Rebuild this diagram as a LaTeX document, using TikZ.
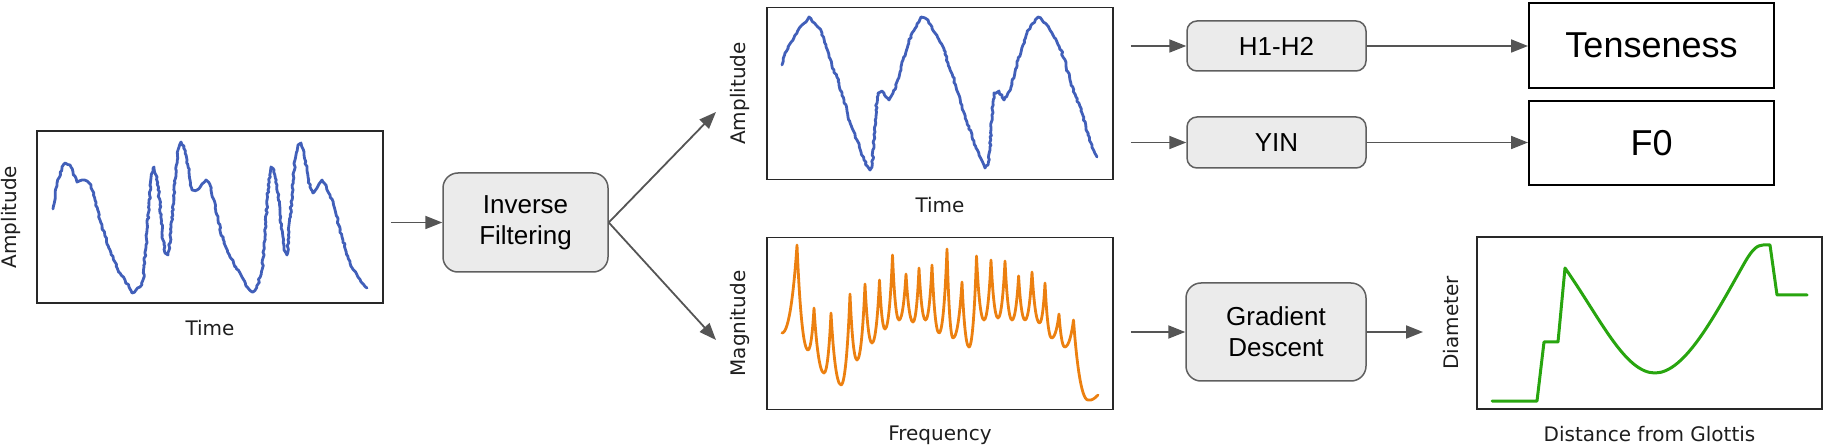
\documentclass[tikz,border=0pt]{standalone}
\usepackage{fontspec}
\usetikzlibrary{arrows.meta,positioning,decorations.pathmorphing}
\newfontfamily\boxfont{Liberation Sans}
\newfontfamily\axisfont{DejaVu Sans}
\definecolor{wavblue}{RGB}{65,95,185}
\definecolor{specorange}{RGB}{236,128,16}
\definecolor{tractgreen}{RGB}{40,165,15}
\definecolor{boxfill}{RGB}{235,235,235}
\definecolor{boxedge}{RGB}{95,95,95}
\definecolor{arrowgray}{RGB}{85,85,85}
\definecolor{framegray}{RGB}{40,40,40}
\definecolor{labelgray}{RGB}{30,30,30}
\begin{document}
\begin{tikzpicture}[x=1pt,y=-1pt,
  plotframe/.style={draw=framegray, line width=1.5pt, minimum width=346pt, minimum height=172pt, inner sep=0pt},
  axlabel/.style={text=labelgray, font=\axisfont\fontsize{20}{24}\selectfont, inner sep=0pt},
  procbox/.style={draw=boxedge, fill=boxfill, line width=1.5pt, rounded corners=15pt, inner sep=0pt, align=center, font=\boxfont\fontsize{26}{31}\selectfont},
  smallproc/.style={procbox, rounded corners=10pt, minimum width=179pt, minimum height=50pt, font=\boxfont\fontsize{26}{30}\selectfont},
  outbox/.style={draw=black, line width=2pt, minimum width=245pt, minimum height=85pt, inner sep=0pt, font=\boxfont\fontsize{36}{42}\selectfont},
  arr/.style={draw=arrowgray, line width=1.8pt, -{Triangle[length=17pt,width=13pt]}},
  wave/.style={line width=2.8pt, line join=round, line cap=round},
  jitter/.style={decorate, decoration={random steps, segment length=2.5pt, amplitude=0.9pt}}
]
\useasboundingbox (0,0) rectangle (1824,446);
\pgfmathsetseed{11}

% plot frames
\node[plotframe] (leftplot) at (210,217) {};
\node[plotframe] (topplot) at (940,93.5) {};
\node[plotframe] (botplot) at (940,323.5) {};
\node[plotframe, minimum width=345pt] (rightplot) at (1649.5,323) {};

% axis labels
\node[axlabel, rotate=90, anchor=base] (ampL) at ([xshift=-20pt]leftplot.west) {Amplitude};
\node[axlabel, anchor=base] (timeL) at ([yshift=-32pt]leftplot.south) {Time};
\node[axlabel, rotate=90, anchor=base] (ampT) at ([xshift=-21pt]topplot.west) {Amplitude};
\node[axlabel, anchor=base] (timeT) at ([yshift=-32pt]topplot.south) {Time};
\node[axlabel, rotate=90, anchor=base] (magB) at ([xshift=-21pt]botplot.west) {Magnitude};
\node[axlabel, anchor=base] (freqB) at ([yshift=-30pt]botplot.south) {Frequency};
\node[axlabel, rotate=90, anchor=base] (diamR) at ([xshift=-18pt]rightplot.west) {Diameter};
\node[axlabel, anchor=base] (distR) at ([yshift=-32pt]rightplot.south) {Distance from Glottis};

% boxes
\node[procbox, minimum width=165pt, minimum height=99pt] (inv) at (525.5,222.5) {Inverse\\Filtering};
\node[smallproc] (hdiff) at (1276.5,46) {H1-H2};
\node[smallproc, minimum height=51pt] (yin) at (1276.5,142.5) {YIN};
\node[procbox, minimum width=180pt, minimum height=98pt] (grad) at (1276,332) {Gradient\\Descent};
\node[outbox] (tense) at (1651.5,45.5) {Tenseness};
\node[outbox, minimum height=84pt] (fzero) at (1651.5,143) {F0};

\coordinate (upTip) at (716,112);
\coordinate (downTip) at (716,340);
\coordinate (gradTip) at (1423,332);

% connectors
\draw[arr, shorten <=7pt] (leftplot.east |- inv.west) -- (inv.west);
\draw[arr] (inv.east) -- (upTip);
\draw[arr] (inv.east) -- (downTip);
\draw[arr, shorten <=17pt] (topplot.east |- hdiff.west) -- (hdiff.west);
\draw[arr, shorten <=17pt] (topplot.east |- yin.west) -- (yin.west);
\draw[arr] (hdiff.east) -- (tense.west |- hdiff.east);
\draw[arr] (yin.east) -- (fzero.west |- yin.east);
\draw[arr, shorten <=17pt] (botplot.east |- grad.west) -- (grad.west);
\draw[arr] (grad.east) -- (gradTip);

% glottal flow, before inverse filtering
\draw[wave, wavblue, jitter] (53,209) -- (57,185) -- (62,167) -- (65,163) -- (70,165) -- (73,172) -- (77,182) -- (82,180) -- (87,181) -- (91,185) -- (95,200) -- (100,220) -- (105,236) -- (110,250) -- (115,262) -- (120,273) -- (125,280) -- (129,287) -- (132,293) -- (136,290) -- (140,287) -- (143,280) -- (146,245) -- (149,205) -- (152,173) -- (154,167) -- (157,177) -- (160,205) -- (163,240) -- (165,253) -- (168,255) -- (171,232) -- (173,205) -- (175,183) -- (178,150) -- (181,142) -- (184,146) -- (187,160) -- (190,180) -- (192,190) -- (197,190) -- (202,184) -- (206,180) -- (210,185) -- (214,200) -- (218,220) -- (224,243) -- (230,257) -- (236,267) -- (242,277) -- (248,288) -- (253,292) -- (258,284) -- (262,270) -- (265,237) -- (268,190) -- (271,167) -- (274,170) -- (277,185) -- (280,215) -- (284,250) -- (287,255) -- (289,232) -- (292,195) -- (295,160) -- (298,145) -- (301,143) -- (304,152) -- (307,170) -- (310,187) -- (313,193) -- (317,188) -- (322,180) -- (326,185) -- (330,195) -- (335,210) -- (342,237) -- (350,263) -- (358,277) -- (367,288);

% glottal source waveform
\draw[wave, wavblue, jitter] (782,65) -- (785,53) -- (788,47) -- (793,40) -- (797,33) -- (802,25) -- (806,22) -- (809,17) -- (813,22) -- (816,25) -- (819,28) -- (822,33) -- (826,45) -- (829,57) -- (834,70) -- (839,83) -- (844,100) -- (848,117) -- (853,130) -- (857,140) -- (861,152) -- (864,160) -- (868,167) -- (870,170) -- (872,167) -- (874,140) -- (876,110) -- (878,93) -- (882,91) -- (886,97) -- (889,100) -- (893,93) -- (896,87) -- (900,72) -- (903,60) -- (908,45) -- (912,33) -- (917,24) -- (921,17) -- (925,18) -- (928,20) -- (932,27) -- (935,33) -- (940,42) -- (944,50) -- (948,63) -- (953,77) -- (958,93) -- (962,107) -- (967,122) -- (972,137) -- (976,148) -- (979,155) -- (983,163) -- (985,168) -- (988,165) -- (990,150) -- (992,115) -- (994,93) -- (999,91) -- (1002,97) -- (1004,100) -- (1008,93) -- (1011,87) -- (1015,72) -- (1018,60) -- (1023,45) -- (1027,33) -- (1032,24) -- (1038,17) -- (1042,20) -- (1045,23) -- (1049,28) -- (1052,33) -- (1057,42) -- (1061,50) -- (1066,65) -- (1070,80) -- (1076,97) -- (1082,113) -- (1086,128) -- (1091,143) -- (1094,151) -- (1097,157);

% spectrum: valley, peak, next valley
\draw[wave, specorange] (782,333)
  \foreach \ax/\ay/\px/\py/\bx/\by in {782/333/797/245/808/350, 808/350/814/308/824/373, 824/373/831/313/841/385,
    841/385/850/294/857/360, 857/360/865/284/872/343, 872/343/879.5/280/885/329, 885/329/892.5/255/899/320,
    899/320/906/274/913/322, 913/322/919/268/925.5/320, 925.5/320/932/265/939/333, 939/333/947/249/953/338,
    953/338/962/282/969/347, 969/347/976.5/256/984/320, 984/320/991/260/998/318, 998/318/1005/261/1012/320,
    1012/320/1018.6/276/1025/320, 1025/320/1032/272/1039.5/323, 1039.5/323/1045/283/1051.6/338,
    1051.6/338/1059/314/1064.7/347, 1064.7/347/1073.5/320/1088/400}
  { .. controls ({\ax+0.5*(\px-\ax)},\ay) and ({\px-0.18*(\px-\ax)},{\py+0.45*(\ay-\py)}) .. (\px,\py)
    .. controls ({\px+0.18*(\bx-\px)},{\py+0.45*(\by-\py)}) and ({\bx-0.5*(\bx-\px)},\by) .. (\bx,\by) }
  .. controls (1092,401) and (1095,398) .. (1098,395);

% vocal tract diameter
\draw[wave, tractgreen, line width=3pt] (1492,401) -- (1537,401) -- (1544,342) -- (1558,342) -- (1565,268)
  .. controls (1600,318) and (1625,373) .. (1655,373)
  .. controls (1685,373) and (1715,315) .. (1745,262)
  .. controls (1752,250) and (1757,245) .. (1763,245) -- (1770,245) -- (1777,295) -- (1807,295);
\end{tikzpicture}
\end{document}
